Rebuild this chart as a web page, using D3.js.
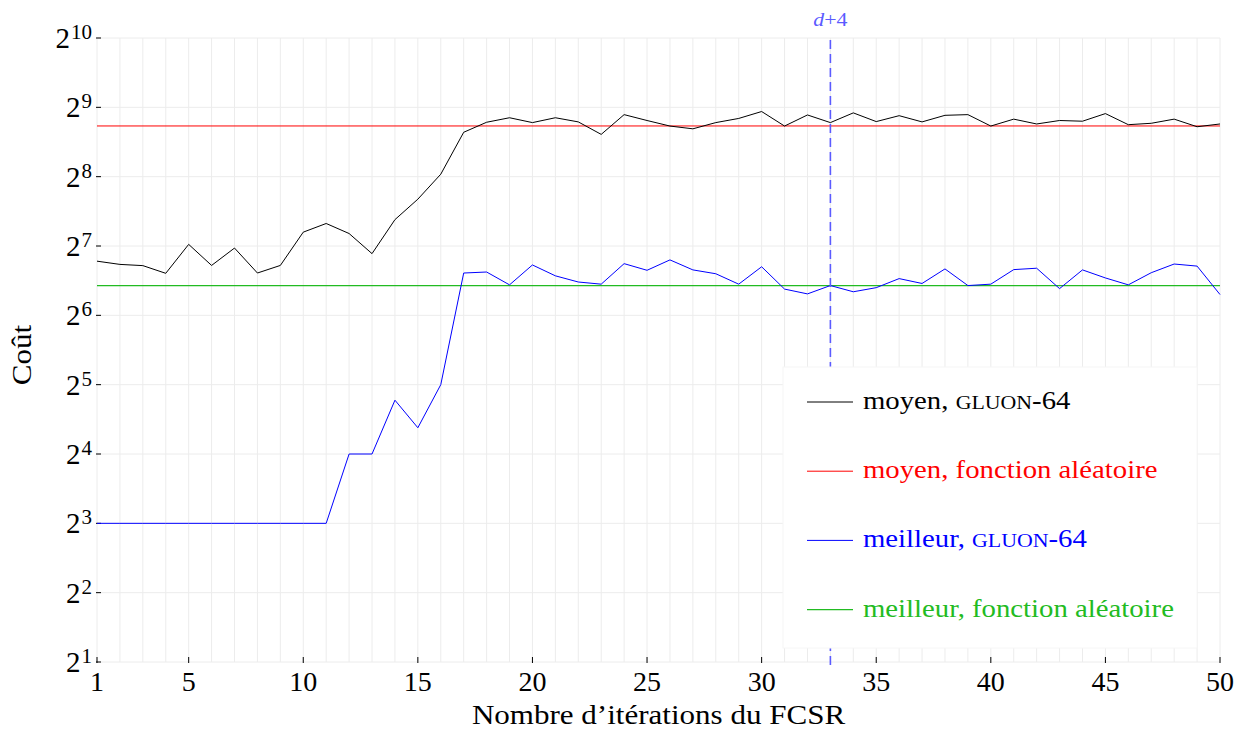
<!DOCTYPE html>
<html>
<head>
<meta charset="utf-8">
<script src="https://cdn.jsdelivr.net/npm/d3@7"></script>
<style>
  html, body { margin: 0; padding: 0; background: #fff; }
  svg { display: block; }
  text { font-family: "Liberation Serif", "DejaVu Serif", serif; }
</style>
</head>
<body>
<svg id="chart" width="1248" height="729"></svg>
<script>
// Iterations of the FCSR (x axis)
const iterations = d3.range(1, 51);

// Average cost, GLUON-64
const meanGluon = [
  110, 106.5, 105.2, 97.4, 130.1, 105.4, 125.4, 97.7, 105.4, 147,
  160.3, 145, 118.6, 166.6, 204.4, 262.4, 399, 441, 461.4, 439.5,
  461.4, 442.6, 390.7, 476, 448.8, 424.6, 413, 439.5, 458.2, 491,
  424.6, 474.4, 439.5, 484.4, 444, 471, 442.6, 472.7, 476, 424.6,
  455, 433.5, 448.8, 445.7, 481, 430.5, 436.5, 455, 421.7, 433.5
];

// Best cost, GLUON-64
const bestGluon = [
  8, 8, 8, 8, 8, 8, 8, 8, 8, 8,
  8, 16, 16, 27.4, 20.8, 32, 97.7, 98.7, 86.8, 105.9,
  95, 89.3, 87.4, 107.3, 100.4, 111.4, 100.8, 97, 87.4, 104,
  83.2, 79.3, 86.2, 81.0, 84.4, 92.4, 88, 101.8, 86.2, 87.4,
  101.1, 102.5, 83.6, 100.8, 93, 86.8, 98, 106.9, 104.7, 78.8
];

// Reference levels for a random function
const meanRandom = 425;
const bestRandom = 86.2;

// Axis ticks
const yTickExponents = [1, 2, 3, 4, 5, 6, 7, 8, 9, 10];
const xTickLabels = [1, 5, 10, 15, 20, 25, 30, 35, 40, 45, 50];
const markerIteration = 33;

const colors = { mean: "#000000", meanRandom: "#ff0000", best: "#0000ff", bestRandom: "#22bb22", marker: "#5b5bff" };

const legendItems = [
  { label: "moyen, ", caps: "gluon", tail: "-64", color: colors.mean, width: 1 },
  { label: "moyen, fonction aléatoire", caps: "", tail: "", color: colors.meanRandom, width: 1 },
  { label: "meilleur, ", caps: "gluon", tail: "-64", color: colors.best, width: 1 },
  { label: "meilleur, fonction aléatoire", caps: "", tail: "", color: colors.bestRandom, width: 1.3 }
];

const svg = d3.select("#chart");
const plotLeft = 97, plotRight = 1220, plotTop = 38, plotBottom = 662;
const stretch = 1.15; // widen the serif text a little, for a Computer Modern look

const x = d3.scaleLinear().domain([1, 50]).range([plotLeft, plotRight]);
const y = d3.scaleLog().base(2).domain([2, 1024]).range([plotBottom, plotTop]);

const gridColor = "#ececec";

// Grid
const grid = svg.append("g");
grid.selectAll("line.v").data(iterations).join("line")
  .attr("class", "v")
  .attr("x1", d => x(d)).attr("x2", d => x(d))
  .attr("y1", plotTop).attr("y2", plotBottom)
  .attr("stroke", gridColor).attr("stroke-width", 1);
grid.selectAll("line.h").data(yTickExponents).join("line")
  .attr("class", "h")
  .attr("x1", plotLeft).attr("x2", plotRight)
  .attr("y1", d => y(Math.pow(2, d))).attr("y2", d => y(Math.pow(2, d)))
  .attr("stroke", gridColor).attr("stroke-width", 1);

// Y axis ticks and labels (powers of two)
const yAxis = svg.append("g");
yAxis.selectAll("line").data(yTickExponents).join("line")
  .attr("x1", plotLeft - 1).attr("x2", plotLeft + 4)
  .attr("y1", d => y(Math.pow(2, d))).attr("y2", d => y(Math.pow(2, d)))
  .attr("stroke", "#000").attr("stroke-width", 1);
const yLabels = yAxis.selectAll("text").data(yTickExponents).join("text")
  .attr("x", 92)
  .attr("y", d => y(Math.pow(2, d)) + 10)
  .attr("text-anchor", "end")
  .attr("font-size", 29)
  .attr("fill", "#000");
yLabels.append("tspan").text("2");
yLabels.append("tspan").attr("dy", -9).attr("dx", 1).attr("font-size", 21).text(d => d);

// X axis ticks and labels
const xAxis = svg.append("g");
xAxis.selectAll("line").data(xTickLabels).join("line")
  .attr("x1", d => x(d)).attr("x2", d => x(d))
  .attr("y1", plotBottom + 1).attr("y2", plotBottom - 5)
  .attr("stroke", "#000").attr("stroke-width", 1);
xAxis.selectAll("text").data(xTickLabels).join("text")
  .attr("x", d => x(d)).attr("y", 691)
  .attr("text-anchor", "middle")
  .attr("font-size", 28)
  .text(d => d);

// Axis titles
svg.append("text")
  .attr("transform", `translate(${(plotLeft + plotRight) / 2}, 724) scale(${stretch}, 1)`)
  .attr("text-anchor", "middle")
  .attr("font-size", 27)
  .text("Nombre d’itérations du FCSR");
svg.append("text")
  .attr("transform", `translate(31, 355) rotate(-90) scale(${stretch}, 1)`)
  .attr("text-anchor", "middle")
  .attr("font-size", 27)
  .text("Coût");

// Horizontal reference lines
svg.append("line")
  .attr("x1", plotLeft).attr("x2", plotRight)
  .attr("y1", y(meanRandom)).attr("y2", y(meanRandom))
  .attr("stroke", colors.meanRandom).attr("stroke-width", 1);
svg.append("line")
  .attr("x1", plotLeft).attr("x2", plotRight)
  .attr("y1", y(bestRandom)).attr("y2", y(bestRandom))
  .attr("stroke", colors.bestRandom).attr("stroke-width", 1.3);

// Series lines
const line = d3.line().x((d, i) => x(iterations[i])).y(d => y(d));
svg.append("path").datum(meanGluon)
  .attr("d", line).attr("fill", "none")
  .attr("stroke", colors.mean).attr("stroke-width", 1);
svg.append("path").datum(bestGluon)
  .attr("d", line).attr("fill", "none")
  .attr("stroke", colors.best).attr("stroke-width", 1);

// Vertical marker at d+4
svg.append("line")
  .attr("x1", x(markerIteration)).attr("x2", x(markerIteration))
  .attr("y1", 40).attr("y2", plotBottom + 4)
  .attr("stroke", colors.marker).attr("stroke-width", 1.6)
  .attr("stroke-dasharray", "9 5");
const mk = svg.append("text")
  .attr("transform", `translate(${x(markerIteration)}, 26) scale(${stretch}, 1)`)
  .attr("text-anchor", "middle")
  .attr("font-size", 19)
  .attr("fill", colors.marker);
mk.append("tspan").attr("font-style", "italic").text("d");
mk.append("tspan").text("+4");

// Legend
const legend = svg.append("g");
legend.append("rect")
  .attr("x", 783).attr("y", 367).attr("width", 414).attr("height", 281)
  .attr("fill", "#fff").attr("stroke", "#f6f6f6").attr("stroke-width", 1);
const rows = legend.selectAll("g").data(legendItems).join("g")
  .attr("transform", (d, i) => `translate(0, ${402 + i * 69.2})`);
rows.append("line")
  .attr("x1", 807).attr("x2", 853).attr("y1", 0).attr("y2", 0)
  .attr("stroke", d => d.color).attr("stroke-width", d => d.width);
const lt = rows.append("text")
  .attr("transform", `translate(863, 7) scale(${stretch}, 1)`)
  .attr("font-size", 25)
  .attr("fill", d => d.color);
lt.append("tspan").text(d => d.label);
// small capitals drawn as reduced uppercase letters
lt.append("tspan")
  .style("text-transform", "uppercase")
  .attr("font-size", 19)
  .text(d => d.caps);
lt.append("tspan").text(d => d.tail);
</script>
</body>
</html>
